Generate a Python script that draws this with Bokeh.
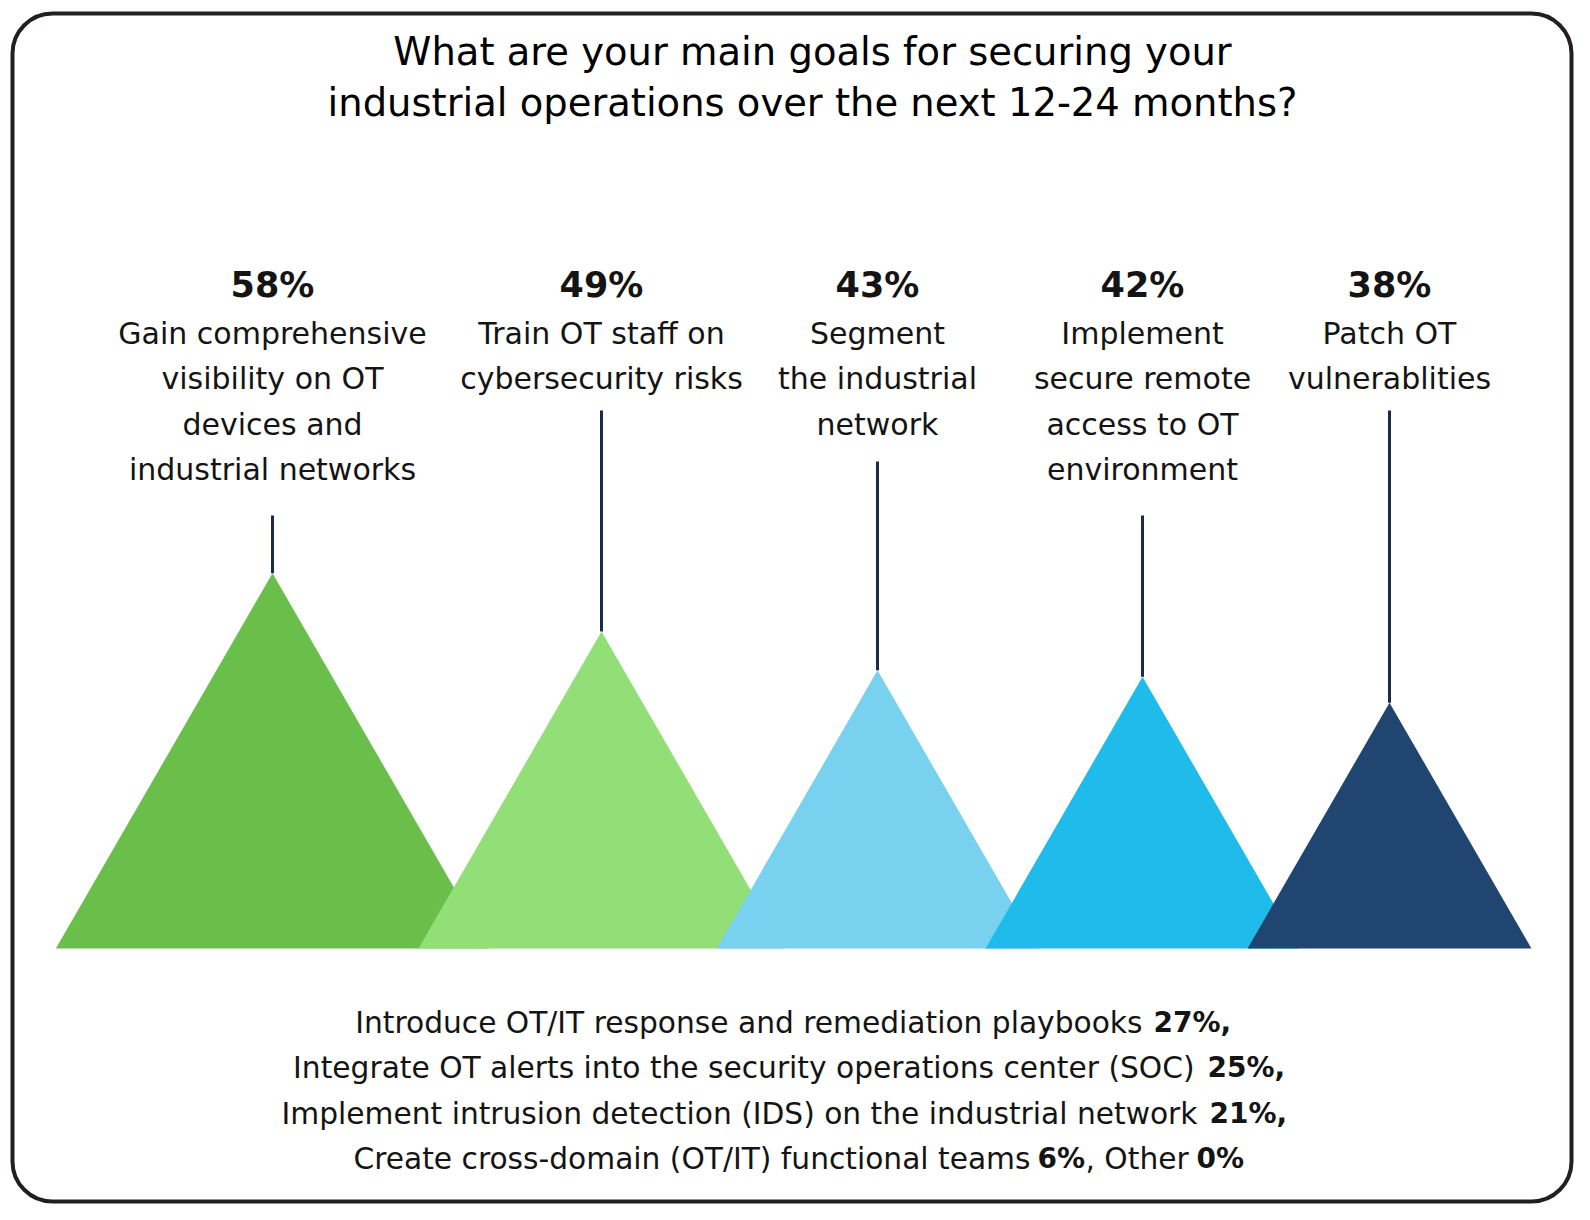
import math

from bokeh.plotting import figure
from bokeh.models import Range1d
from bokeh.core.properties import value
from bokeh.embed import file_html
from bokeh.resources import INLINE

# ---- data ----
title_lines = ["What are your main goals for securing your",
               "industrial operations over the next 12-24 months?"]

goal_values = [58, 49, 43, 42, 38]
goal_labels = [
    ["Gain comprehensive", "visibility on OT", "devices and", "industrial networks"],
    ["Train OT staff on", "cybersecurity risks"],
    ["Segment", "the industrial", "network"],
    ["Implement", "secure remote", "access to OT", "environment"],
    ["Patch OT", "vulnerablities"],
]
goal_colors = ["#6abf4b", "#91df76", "#78d1ee", "#1fbbea", "#204571"]

other_goals = [
    "Introduce OT/IT response and remediation playbooks",
    "Integrate OT alerts into the security operations center (SOC)",
    "Implement intrusion detection (IDS) on the industrial network",
    "Create cross-domain (OT/IT) functional teams",
    "Other",
]
other_values = [27, 25, 21, 6, 0]

# ---- layout (screen pixels) ----
W, H = 1574, 1204
BASE_PX = 948          # where the triangles stand
PX_PER_PCT = 6.47      # triangle height per percent
FONT = "DejaVu Sans"
DARK = "#141414"

centers = [272, 601, 877, 1142, 1389]
stem_tops = [515, 410, 461, 515, 410]


def ypct(py):
    # screen y pixel -> y data value (percent)
    return (BASE_PX - py) / PX_PER_PCT


p = figure(width=W, height=H, output_backend="svg", toolbar_location=None,
           x_range=Range1d(0, W), y_range=Range1d(ypct(H), ypct(0)),
           x_axis_location=None, y_axis_location=None, min_border=0,
           outline_line_color=None, background_fill_color="white")
p.grid.grid_line_color = None

# rounded frame
p.quad(left=12, right=1571, top=ypct(13), bottom=ypct(1201), fill_color=None,
       line_color="#231f20", line_width=4, border_radius=40)

# equilateral triangles, height = value
half = [v * PX_PER_PCT / math.sqrt(3) for v in goal_values]
xs = [[c - h, c, c + h] for c, h in zip(centers, half)]
ys = [[0, v, 0] for v in goal_values]
p.patches(xs, ys, fill_color=goal_colors, line_color=None)

# stems
p.segment(x0=centers, y0=goal_values, x1=centers, y1=[ypct(t) for t in stem_tops],
          line_color="#1c2a4b", line_width=3)

# title
for i, line in enumerate(title_lines):
    p.text(x=[812], y=[ypct(51 + i * 50.6)], text=[line], text_font=value(FONT),
           text_font_size="38.5px", text_align="center", text_baseline="middle",
           text_color="black")

# percentages and goal names
p.text(x=centers, y=[ypct(284)] * len(centers), text=[f"{v}%" for v in goal_values],
       text_font=value(FONT), text_font_size="35px", text_font_style="bold",
       text_align="center", text_baseline="middle", text_color=DARK)

for c, lines in zip(centers, goal_labels):
    p.text(x=[c] * len(lines), y=[ypct(332.5 + j * 45.6) for j in range(len(lines))],
           text=lines, text_font=value(FONT), text_font_size="30px",
           text_align="center", text_baseline="middle", text_color=DARK)

# remaining answers at the bottom
line_mid = [1021.5, 1067, 1112.5, 1158]
normal_right = [1142, 1194, 1197, 1030]
bold_left = [1153, 1207, 1209, 1037]

for i in range(4):
    y = ypct(line_mid[i])
    p.text(x=[normal_right[i]], y=[y], text=[other_goals[i]], text_font=value(FONT),
           text_font_size="29.7px", text_align="right", text_baseline="middle",
           text_color=DARK)
    tail = "," if i < 3 else ""
    p.text(x=[bold_left[i]], y=[y], text=[f"{other_values[i]}%{tail}"],
           text_font=value(FONT), text_font_size="28px", text_font_style="bold",
           text_align="left", text_baseline="middle", text_color=DARK)

y4 = ypct(line_mid[3])
p.text(x=[1085], y=[y4], text=[", " + other_goals[4]], text_font=value(FONT),
       text_font_size="29.7px", text_align="left", text_baseline="middle",
       text_color=DARK)
p.text(x=[1196], y=[y4], text=[f"{other_values[4]}%"], text_font=value(FONT),
       text_font_size="28px", text_font_style="bold", text_align="left",
       text_baseline="middle", text_color=DARK)

open("out.html", "w").write(file_html(p, INLINE))
